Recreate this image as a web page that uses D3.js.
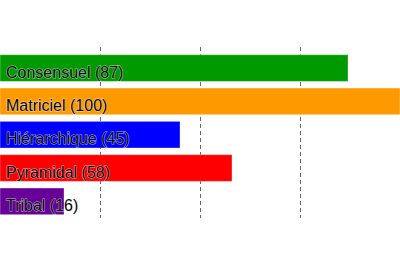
<!DOCTYPE html>
<html>
<head>
<meta charset="utf-8">
<script src="https://cdn.jsdelivr.net/npm/d3@7"></script>
<style>
  body { margin: 0; background: #fff; }
  svg { display: block; }
</style>
</head>
<body>
<div id="chart"></div>
<script>
// Chart data
const labels = ["Consensuel", "Matriciel", "Hiérarchique", "Pyramidal", "Tribal"];
const values = [87, 100, 45, 58, 16];
const colors = ["#009900", "#ff9900", "#0000ff", "#ff0000", "#660099"];
const gridTicks = [25, 50, 75];

const width = 400, height = 270;

const svg = d3.select("#chart")
    .append("svg")
    .attr("width", width)
    .attr("height", height);

// Scales
const x = d3.scaleLinear()
    .domain([0, 100])
    .range([0, 400]);

const y = d3.scaleBand()
    .domain(labels)
    .range([51.4, 218])
    .paddingInner(0.2)
    .paddingOuter(0.1);

// Dashed grid lines behind the bars
svg.append("g")
    .selectAll("line")
    .data(gridTicks)
    .join("line")
    .attr("x1", d => Math.round(x(d)) + 0.5)
    .attr("x2", d => Math.round(x(d)) + 0.5)
    .attr("y1", 47)
    .attr("y2", 218)
    .attr("stroke", "#666")
    .attr("stroke-width", 1)
    .attr("stroke-dasharray", "4,3");

// Bars
svg.append("g")
    .selectAll("rect")
    .data(labels)
    .join("rect")
    .attr("x", x(0))
    .attr("y", d => y(d))
    .attr("width", (d, i) => x(values[i]) - x(0))
    .attr("height", y.bandwidth())
    .attr("fill", (d, i) => colors[i])
    .attr("stroke", "#fff")
    .attr("stroke-opacity", 0.35)
    .attr("stroke-width", 1);

// Labels inside the bars
svg.append("g")
    .selectAll("text")
    .data(labels)
    .join("text")
    .attr("x", 6)
    .attr("y", d => y(d) + y.bandwidth() / 2 + 9.5)
    .attr("font-family", "Liberation Sans, Arial, sans-serif")
    .attr("font-size", "16px")
    .attr("fill", "#000")
    .attr("stroke", "#fff")
    .attr("stroke-opacity", 0.7)
    .attr("stroke-width", 1)
    .attr("paint-order", "stroke")
    .text((d, i) => `${d} (${values[i]})`);
</script>
</body>
</html>
